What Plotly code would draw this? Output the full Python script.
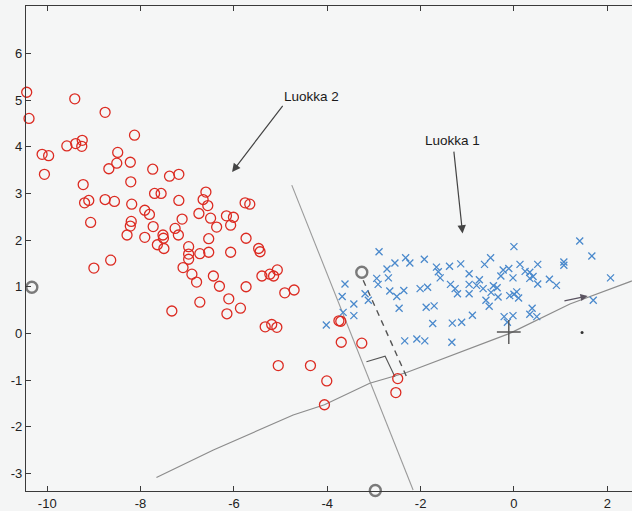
import plotly.graph_objects as go

# ---- data ----
luokka2_x = [-10.44, -10.39, -9.41, -8.76, -8.13, -9.58, -9.39, -9.26, -9.25, -10.11,
             -9.97, -10.06, -8.49, -8.51, -8.68, -8.22, -7.74, -7.38, -7.18, -8.21,
             -9.23, -9.20, -9.11, -8.76, -8.56, -8.19, -9.07, -7.70, -7.56, -7.18,
             -6.60, -6.66, -6.56, -7.91, -7.81, -7.11, -6.75, -6.50, -6.37, -6.16,
             -6.01, -6.07, -5.76, -5.66, -8.20, -8.22, -7.73, -8.29, -7.91, -7.52,
             -7.51, -7.26, -7.19, -6.54, -5.74, -7.64, -7.50, -6.97, -6.97, -6.97,
             -6.73, -6.54, -6.07, -5.47, -5.44, -8.64, -9.00, -7.09, -6.90, -6.80,
             -6.44, -6.31, -5.74, -5.40, -5.23, -5.15, -5.07, -4.91, -4.71, -6.73,
             -7.33, -6.11, -6.15, -5.86, -5.33, -5.19, -5.08, -5.05, -4.36, -3.75,
             -3.71, -3.70, -3.26, -4.01, -4.06, -2.49, -2.53]
luokka2_y = [5.17, 4.61, 5.03, 4.74, 4.25, 4.02, 4.07, 4.01, 4.14, 3.84,
             3.81, 3.41, 3.88, 3.65, 3.53, 3.67, 3.52, 3.37, 3.41, 3.25,
             3.19, 2.80, 2.85, 2.87, 2.83, 2.77, 2.38, 3.00, 3.00, 2.85,
             3.03, 2.87, 2.74, 2.64, 2.55, 2.45, 2.57, 2.47, 2.28, 2.52,
             2.49, 2.32, 2.80, 2.77, 2.40, 2.30, 2.29, 2.11, 2.06, 2.11,
             2.04, 2.25, 2.11, 2.03, 2.04, 1.90, 1.82, 1.86, 1.70, 1.59,
             1.71, 1.74, 1.74, 1.82, 1.75, 1.57, 1.40, 1.41, 1.27, 1.10,
             1.23, 1.01, 1.00, 1.23, 1.27, 1.23, 1.36, 0.87, 0.93, 0.67,
             0.48, 0.74, 0.42, 0.54, 0.14, 0.19, 0.13, -0.69, -0.69, 0.27,
             0.26, -0.19, -0.21, -1.02, -1.53, -0.97, -1.27]

luokka1_x = [-2.89, -2.32, -2.23, -1.92, -2.55, -2.72, -2.69, -2.94, -2.91, -2.66,
             -2.36, -2.51, -2.01, -1.85, -2.46, -1.88, -1.71, -3.62, -3.68, -3.43,
             -3.19, -3.12, -3.66, -3.43, -4.02, -1.74, -1.32, -1.12, -2.34, -2.08,
             -1.91, -1.33, -1.66, -1.62, -1.58, -1.38, -1.14, -0.96, -1.36, -1.26,
             -1.21, -0.96, -0.96, -0.89, 1.41, 1.67, 0.00, -0.50, -0.63, 0.13,
             0.51, 1.07, 1.07, 2.07, -0.23, -0.11, -0.28, -0.02, 0.24, 0.34,
             0.41, 0.34, 0.51, 0.76, 0.91, -0.74, -0.80, -0.66, -0.44, -0.36,
             -0.49, -0.60, -0.53, -0.34, -0.09, 0.00, 0.06, 0.10, 0.39, 0.49,
             0.34, -0.21, -0.02, -0.14, 1.70]
luokka1_y = [1.75, 1.62, 1.51, 1.59, 1.51, 1.38, 1.19, 1.18, 1.05, 0.91,
             0.92, 0.79, 0.96, 0.99, 0.54, 0.56, 0.59, 1.06, 0.79, 0.63,
             0.85, 0.71, 0.45, 0.38, 0.18, 0.21, 0.22, 0.24, -0.16, -0.12,
             -0.16, -0.19, 1.42, 1.32, 1.19, 1.44, 1.49, 1.28, 1.05, 0.96,
             0.85, 1.05, 0.85, 0.39, 1.98, 1.66, 1.86, 1.62, 1.48, 1.48,
             1.48, 1.53, 1.46, 1.19, 1.36, 1.39, 1.23, 1.19, 1.33, 1.31,
             1.22, 1.18, 1.06, 1.16, 1.03, 1.15, 1.03, 0.96, 1.02, 0.98,
             0.88, 0.71, 0.58, 0.78, 0.81, 0.84, 0.89, 0.76, 0.54, 0.36,
             0.41, 0.36, 0.38, 0.24, 0.71]

# decision boundary (as drawn, slightly wavy in the scan)
boundary_x = [-7.66, -6.44, -4.73, -4.06, -3.09, -2.30, -0.09, 1.20, 2.49, 2.70]
boundary_y = [-3.09, -2.50, -1.75, -1.53, -1.07, -0.84, 0.00, 0.63, 1.11, 1.19]
# perpendicular line
normal_x = [-4.76, -2.16]
normal_y = [3.18, -3.36]
# dashed margin line
margin_x = [-3.23, -2.30]
margin_y = [1.14, -0.93]
# right-angle marker
corner_x = [-3.16, -2.76, -2.55]
corner_y = [-0.61, -0.49, -0.93]
# scan blobs (grey circles)
blob_x = [-10.33, -3.26, -2.97]
blob_y = [0.99, 1.31, -3.37]
# origin cross and small dot
plus_x = [-0.11]
plus_y = [0.03]
dot_x = [1.46]
dot_y = [0.02]

x_ticks = [-10, -8, -6, -4, -2, 0, 2]
x_ticktext = ["-10", "-8", "-6", "-4", "-2", "0", "2"]
y_ticks = [-3, -2, -1, 0, 1, 2, 3, 4, 5, 6]
y_ticktext = ["-3", "-2", "-1", "0", "1", "2", "3", "4", "5", "6"]

FONT = "Liberation Sans, Arial, sans-serif"

fig = go.Figure()

fig.add_trace(go.Scatter(x=boundary_x, y=boundary_y, mode="lines",
                         line=dict(color="#8c8c8c", width=1.2),
                         hoverinfo="skip", showlegend=False))
fig.add_trace(go.Scatter(x=normal_x, y=normal_y, mode="lines",
                         line=dict(color="#9a9a9a", width=1.1),
                         hoverinfo="skip", showlegend=False))
fig.add_trace(go.Scatter(x=margin_x, y=margin_y, mode="lines",
                         line=dict(color="#555555", width=1.4, dash="6px,5px"),
                         hoverinfo="skip", showlegend=False))
fig.add_trace(go.Scatter(x=corner_x, y=corner_y, mode="lines",
                         line=dict(color="#555555", width=1.1),
                         hoverinfo="skip", showlegend=False))

fig.add_trace(go.Scatter(x=luokka2_x, y=luokka2_y, mode="markers", name="Luokka 2",
                         marker=dict(symbol="circle-open", size=10,
                                     color="#dc2b22", line=dict(width=1.3, color="#dc2b22")),
                         cliponaxis=False, showlegend=False))
fig.add_trace(go.Scatter(x=luokka1_x, y=luokka1_y, mode="markers", name="Luokka 1",
                         marker=dict(symbol="x-thin", size=7,
                                     color="#4a89cc", line=dict(width=1.3, color="#4a89cc")),
                         cliponaxis=False, showlegend=False))

fig.add_trace(go.Scatter(x=blob_x, y=blob_y, mode="markers",
                         marker=dict(symbol="circle-open", size=11,
                                     color="#7a7a7a", line=dict(width=2.4, color="#7a7a7a")),
                         cliponaxis=False, hoverinfo="skip", showlegend=False))
fig.add_trace(go.Scatter(x=plus_x, y=plus_y, mode="markers",
                         marker=dict(symbol="cross-thin", size=17,
                                     color="#555555", line=dict(width=1.4, color="#555555")),
                         hoverinfo="skip", showlegend=False))
fig.add_trace(go.Scatter(x=dot_x, y=dot_y, mode="markers",
                         marker=dict(symbol="circle", size=3, color="#333333"),
                         hoverinfo="skip", showlegend=False))

annotations = [
    dict(x=-4.33, y=5.08, xref="x", yref="y", text="Luokka 2", showarrow=False,
         font=dict(family=FONT, size=13.5, color="#1a1a1a")),
    dict(x=-6.04, y=3.46, ax=-4.93, ay=4.91, xref="x", yref="y", axref="x", ayref="y",
         text="", showarrow=True, arrowhead=2, arrowsize=1.4, arrowwidth=1.2,
         arrowcolor="#444444"),
    dict(x=-1.31, y=4.14, xref="x", yref="y", text="Luokka 1", showarrow=False,
         font=dict(family=FONT, size=13.5, color="#1a1a1a")),
    dict(x=-1.10, y=2.14, ax=-1.29, ay=3.93, xref="x", yref="y", axref="x", ayref="y",
         text="", showarrow=True, arrowhead=2, arrowsize=1.4, arrowwidth=1.2,
         arrowcolor="#444444"),
    dict(x=1.58, y=0.80, ax=1.05, ay=0.69, xref="x", yref="y", axref="x", ayref="y",
         text="", showarrow=True, arrowhead=2, arrowsize=1.2, arrowwidth=1.2,
         arrowcolor="#5a5360"),
]

fig.update_layout(
    width=632, height=511,
    margin=dict(l=26, r=0, t=6, b=20),
    paper_bgcolor="#f4f5f5", plot_bgcolor="#f5f6f6",
    showlegend=False,
    annotations=annotations,
    font=dict(family=FONT, size=13, color="#222222"),
    xaxis=dict(range=[-10.455, 2.53], tickvals=x_ticks, ticktext=x_ticktext,
               automargin=False,
               showgrid=False, zeroline=False, showline=True, linecolor="#3a3a3a",
               linewidth=1.2, mirror="ticks", ticks="inside", ticklen=5,
               tickcolor="#3a3a3a", tickfont=dict(family=FONT, size=13, color="#222222")),
    yaxis=dict(range=[-3.38, 7.02], tickvals=y_ticks, ticktext=y_ticktext,
               automargin=False,
               showgrid=False, zeroline=False, showline=True, linecolor="#3a3a3a",
               linewidth=1.2, ticks="inside", ticklen=5, tickcolor="#3a3a3a",
               tickfont=dict(family=FONT, size=13, color="#222222")),
)

fig.write_html("out.html", config={"displayModeBar": False},
               post_script="document.body.style.margin='0';document.body.style.overflow='hidden';")
